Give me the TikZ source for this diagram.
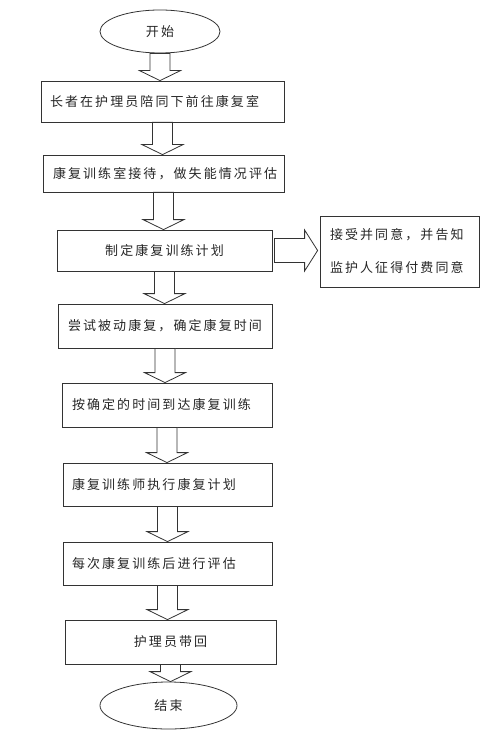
\documentclass[tikz,border=0pt]{standalone}
\usepackage{fontspec}
\newfontfamily\cjk[LetterSpace=16]{Noto Sans CJK SC}
\usetikzlibrary{calc}
\usetikzlibrary{shapes.geometric}

\tikzset{
    stepbox/.style={draw=black!80, line width=.8pt, rectangle, inner xsep=9pt, inner ysep=0pt, align=left, font=\cjk\fontsize{13}{33}\selectfont, text=black!85},
    endbox/.style={draw=black!80, line width=.8pt, ellipse, inner sep=0pt, font=\cjk\fontsize{13}{15}\selectfont, text=black!85},
    blockarrow/.style={draw=black!80, line width=.8pt, fill=white, line join=miter}
}

\begin{document}
\begin{tikzpicture}[x=1pt, y=-1pt]

    \useasboundingbox (0,0) rectangle (500,743);

    \newcommand*{\flowarrow}[2]{%
        \draw[blockarrow] let \p1=(#1.south), \p2=(#2.north) in
            (\x1-10pt,\y1) -- (\x1+10pt,\y1) -- (\x1+10pt,\y2+10pt) -- (\x1+20.5pt,\y2+10pt)
            -- (\x1,\y2) -- (\x1-20.5pt,\y2+10pt) -- (\x1-10pt,\y2+10pt) -- cycle;}
    \newcommand*{\sidearrow}[2]{%
        \draw[blockarrow] let \p1=(#1.east), \p2=(#2.west) in
            (\x1+2pt,\y1+12pt) -- (\x2-15pt,\y1+12pt) -- (\x2-15pt,\y1+20.5pt) -- (\x2-2pt,\y1)
            -- (\x2-15pt,\y1-20.5pt) -- (\x2-15pt,\y1-12pt) -- (\x1+2pt,\y1-12pt) -- cycle;}

    % Start and end
    \node[endbox, minimum width=120pt, minimum height=43pt] (start) at (160,31.5) {开始};
    \node[endbox, minimum width=137pt, minimum height=47pt] (finish) at (168.5,705.5) {结束};

    % Steps
    \node[stepbox, text width=225pt, minimum height=41pt] (arrive) at (162.5,101.5) {长者在护理员陪同下前往康复室};
    \node[stepbox, text width=221pt, minimum height=37pt, inner xsep=10pt] (assess) at (163.5,173.5) {康复训练室接待，做失能情况评估};
    \node[stepbox, text width=197pt, minimum height=41pt, align=center] (plan) at (164.5,250.5) {制定康复训练计划};
    \node[stepbox, text width=139pt, minimum height=71pt, inner xsep=10pt] (consent) at (399.5,251.5) {接受并同意，并告知\\监护人征得付费同意};
    \node[stepbox, text width=194pt, minimum height=44pt, inner xsep=10pt] (trial) at (165,326) {尝试被动康复，确定康复时间};
    \node[stepbox, text width=190pt, minimum height=44pt, inner xsep=10pt] (attend) at (167,405) {按确定的时间到达康复训练};
    \node[stepbox, text width=191pt, minimum height=43pt] (execute) at (167.5,484.5) {康复训练师执行康复计划};
    \node[stepbox, text width=191pt, minimum height=43pt] (review) at (167.5,563.5) {每次康复训练后进行评估};
    \node[stepbox, text width=193pt, minimum height=44pt, align=center] (back) at (170.5,642) {护理员带回};

    % Arrows
    \flowarrow{start}{arrive}
    \flowarrow{arrive}{assess}
    \flowarrow{assess}{plan}
    \flowarrow{plan}{trial}
    \flowarrow{trial}{attend}
    \flowarrow{attend}{execute}
    \flowarrow{execute}{review}
    \flowarrow{review}{back}
    \flowarrow{back}{finish}
    \sidearrow{plan}{consent}

\end{tikzpicture}
\end{document}
